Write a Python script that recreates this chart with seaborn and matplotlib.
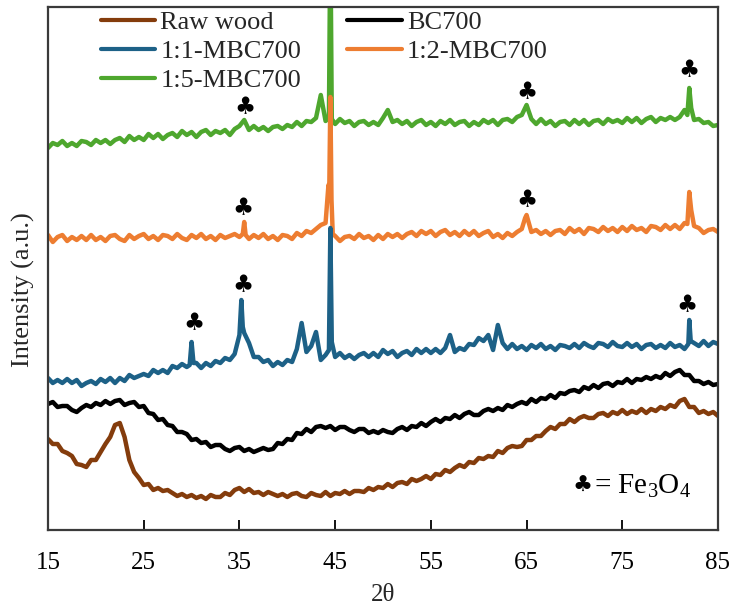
import numpy as np
import matplotlib
matplotlib.use("Agg")
import matplotlib.pyplot as plt
import seaborn as sns

# ---------------- data (intensity in arbitrary units) ----------------
two_theta = np.round(np.arange(15.0, 85.0001, 0.5), 2)  # 2θ sampling grid

raw_wood = [91, 86, 86, 79, 77, 74, 66, 65, 63, 70,
            70, 78, 86, 93, 105, 107, 93, 70, 58, 52,
            45, 46, 40, 42, 39, 40, 37, 34, 36, 33,
            35, 32, 34, 31, 35, 33, 33, 37, 35, 40,
            42, 38, 41, 37, 38, 35, 38, 36, 34, 36,
            33, 36, 37, 34, 33, 37, 35, 34, 38, 34,
            37, 36, 39, 36, 39, 39, 38, 42, 40, 43,
            42, 46, 43, 47, 48, 46, 51, 49, 51, 54,
            51, 56, 55, 60, 58, 62, 65, 63, 68, 67,
            72, 71, 74, 73, 79, 77, 82, 84, 83, 84,
            90, 90, 94, 94, 99, 103, 101, 106, 106, 111,
            108, 112, 114, 112, 112, 116, 117, 114, 118, 116,
            120, 116, 119, 117, 121, 117, 121, 119, 123, 121,
            125, 123, 129, 131, 123, 123, 117, 119, 116, 118,
            114]

bc700 = [126, 128, 123, 124, 124, 120, 118, 122, 125, 123,
         127, 125, 129, 126, 129, 130, 125, 127, 128, 123,
         124, 117, 116, 110, 111, 105, 104, 98, 98, 96,
         90, 91, 87, 88, 83, 85, 85, 81, 79, 82,
         83, 79, 81, 78, 80, 82, 80, 81, 87, 86,
         91, 90, 97, 96, 101, 98, 103, 104, 102, 104,
         100, 103, 103, 100, 98, 101, 101, 97, 99, 97,
         100, 98, 97, 101, 103, 100, 104, 103, 107, 104,
         108, 111, 108, 112, 111, 115, 112, 116, 118, 115,
         115, 119, 121, 119, 122, 120, 125, 123, 126, 128,
         126, 131, 128, 132, 131, 135, 132, 137, 136, 139,
         140, 138, 143, 141, 145, 142, 146, 147, 144, 148,
         147, 151, 147, 151, 150, 153, 151, 154, 152, 157,
         154, 158, 160, 155, 155, 149, 149, 146, 148, 145,
         146]

mbc_1_1 = [152, 147, 150, 147, 151, 147, 150, 144, 147, 149,
           146, 151, 148, 152, 147, 152, 149, 155, 152, 154,
           156, 154, 160, 157, 160, 157, 164, 162, 166, 163,
           188, 167, 162, 167, 164, 169, 167, 172, 170, 176,
           195, 197, 187, 173, 173, 168, 170, 164, 168, 165,
           170, 168, 181, 207, 178, 184, 198, 170, 175, 302,
           173, 177, 172, 175, 171, 175, 177, 173, 177, 173,
           180, 176, 179, 173, 177, 179, 175, 181, 177, 181,
           177, 181, 177, 182, 195, 178, 182, 180, 186, 185,
           192, 189, 195, 180, 205, 187, 181, 186, 181, 184,
           180, 185, 182, 186, 181, 184, 180, 185, 184, 182,
           186, 182, 187, 184, 182, 187, 186, 183, 188, 184,
           183, 187, 183, 186, 181, 185, 186, 182, 185, 182,
           187, 183, 185, 181, 210, 187, 184, 189, 184, 188,
           186]
mbc_1_1_peak_x = [29.8, 30.2, 35.2, 35.35, 44.35, 44.65, 81.9, 82.15]
mbc_1_1_peak_y = [165, 167, 230, 203, 180, 188, 186, 189]

mbc_1_2 = [295, 288, 293, 295, 289, 293, 290, 294, 290, 295,
           290, 293, 289, 294, 295, 291, 289, 295, 291, 294,
           296, 291, 294, 290, 295, 294, 291, 296, 292, 290,
           295, 292, 296, 291, 294, 290, 295, 292, 294, 296,
           293, 308, 291, 295, 292, 296, 291, 294, 290, 295,
           294, 291, 297, 294, 299, 297, 301, 305, 307, 433,
           294, 289, 293, 294, 291, 296, 292, 294, 290, 295,
           291, 296, 293, 296, 292, 296, 298, 294, 299, 296,
           299, 294, 298, 300, 295, 298, 294, 299, 295, 299,
           294, 297, 299, 293, 296, 292, 297, 294, 298, 301,
           315, 298, 300, 296, 299, 295, 299, 300, 296, 302,
           298, 301, 296, 302, 301, 298, 303, 299, 302, 298,
           303, 299, 304, 300, 302, 298, 304, 303, 300, 305,
           301, 305, 301, 307, 338, 304, 302, 297, 300, 301,
           298]
mbc_1_2_peak_x = [35.35, 35.65, 44.3, 44.38, 44.62, 44.75, 64.85, 65.15, 81.8, 82.2]
mbc_1_2_peak_y = [296, 295, 345, 335, 330, 296, 312, 310, 306, 320]

mbc_1_5 = [382, 387, 385, 389, 384, 387, 384, 389, 388, 385,
           390, 387, 390, 386, 390, 392, 388, 394, 390, 393,
           390, 396, 392, 396, 391, 395, 397, 393, 399, 395,
           398, 393, 398, 400, 395, 399, 397, 400, 395, 401,
           404, 410, 400, 404, 400, 403, 399, 403, 404, 401,
           405, 403, 408, 404, 409, 408, 412, 435, 409, 600,
           406, 411, 407, 409, 404, 408, 409, 405, 408, 405,
           412, 420, 408, 410, 406, 409, 404, 408, 410, 405,
           408, 404, 409, 406, 410, 405, 408, 409, 404, 408,
           405, 410, 407, 410, 405, 410, 411, 408, 413, 415,
           425, 411, 406, 411, 406, 409, 404, 408, 409, 405,
           410, 406, 410, 405, 409, 410, 406, 411, 408, 410,
           407, 412, 408, 412, 407, 411, 413, 408, 412, 410,
           413, 410, 413, 420, 442, 410, 411, 407, 408, 404,
           405]
mbc_1_5_peak_x = [44.35, 44.65, 81.8, 82.2]
mbc_1_5_peak_y = [412, 411, 415, 422]

labels = ["Raw wood", "BC700", "1:1-MBC700", "1:2-MBC700", "1:5-MBC700"]
colors = ["#843C0C", "#000000", "#1D6187", "#ED7D31", "#4EA72E"]

# Fe3O4 marker positions (2θ, height)
club_x = [35.6, 65.05, 82.0, 35.4, 65.05, 30.25, 35.4, 81.8]
club_y = [423, 438, 460, 322, 330, 207, 245, 225]
x_ticks = [15, 25, 35, 45, 55, 65, 75, 85]


def merged(base, ex=(), ey=()):
    x = np.concatenate([two_theta, np.asarray(ex, float)])
    y = np.concatenate([np.asarray(base, float), np.asarray(ey, float)])
    o = np.argsort(x, kind="stable")
    return x[o], y[o]


series = {
    "Raw wood": merged(raw_wood),
    "BC700": merged(bc700),
    "1:1-MBC700": merged(mbc_1_1, mbc_1_1_peak_x, mbc_1_1_peak_y),
    "1:2-MBC700": merged(mbc_1_2, mbc_1_2_peak_x, mbc_1_2_peak_y),
    "1:5-MBC700": merged(mbc_1_5, mbc_1_5_peak_x, mbc_1_5_peak_y),
}

# ---------------- style ----------------
sns.set_style("white")
plt.rcParams["font.family"] = ["Liberation Serif", "DejaVu Sans"]
plt.rcParams["mathtext.fontset"] = "custom"
plt.rcParams["mathtext.rm"] = "Liberation Serif"
plt.rcParams["mathtext.it"] = "Liberation Serif:italic"

W, H = 732, 607
fig = plt.figure(figsize=(W / 100, H / 100), dpi=100)
L, R, T, B = 48, 718, 7, 530
ax = fig.add_axes([L / W, 1 - B / H, (R - L) / W, (B - T) / H])

draw_order = ["1:5-MBC700", "1:2-MBC700", "1:1-MBC700", "BC700", "Raw wood"]
handles = {}
for name in draw_order:
    x, y = series[name]
    c = colors[labels.index(name)]
    sns.lineplot(x=x, y=y, ax=ax, color=c, lw=3.2, estimator=None,
                 label=name, legend=False)
    handles[name] = ax.lines[-1]

ax.set_xlim(15, 85)
ax.set_ylim(0, B - T)
ax.set_xticks(x_ticks)
ax.set_yticks([])
ax.tick_params(axis="x", direction="in", length=7, width=1.3, pad=16,
               labelsize=18, colors="black", bottom=True, top=False)
for s in ax.spines.values():
    s.set_color("#3a3a3a")
    s.set_linewidth(1.6)
    s.set_visible(True)

ax.set_xlabel("2θ", fontsize=18)
ax.xaxis.set_label_coords(0.5, -0.103)
ax.set_ylabel("Intensity (a.u.)", fontsize=19)
ax.yaxis.set_label_coords(-0.02, 0.459)

# clubs marking Fe3O4 reflections
for cx, cy in zip(club_x, club_y):
    ax.text(cx, cy, "♣", fontsize=17, ha="center", va="center",
            family=["DejaVu Sans"], color="black")
ax.text(70.8, 44, "♣", fontsize=16, ha="center", va="center",
        family=["DejaVu Sans"], color="black")
ax.text(72.0, 44, "= Fe$_\\mathrm{3}$O$_\\mathrm{4}$", fontsize=21,
        ha="left", va="center", color="black")

leg_order = ["Raw wood", "1:1-MBC700", "1:5-MBC700", "BC700", "1:2-MBC700"]
ax.legend([handles[n] for n in leg_order], leg_order, ncol=2, frameon=False,
          fontsize=19, loc="upper left",
          bbox_to_anchor=(101 / W, 1 - 11 / H), bbox_transform=fig.transFigure,
          borderpad=0, borderaxespad=0, handlelength=2.05, handletextpad=0.2,
          columnspacing=1.75, labelspacing=0.2)
for ln in ax.get_legend().get_lines():
    ln.set_linewidth(3)

fig.savefig("out.png", dpi=100)
